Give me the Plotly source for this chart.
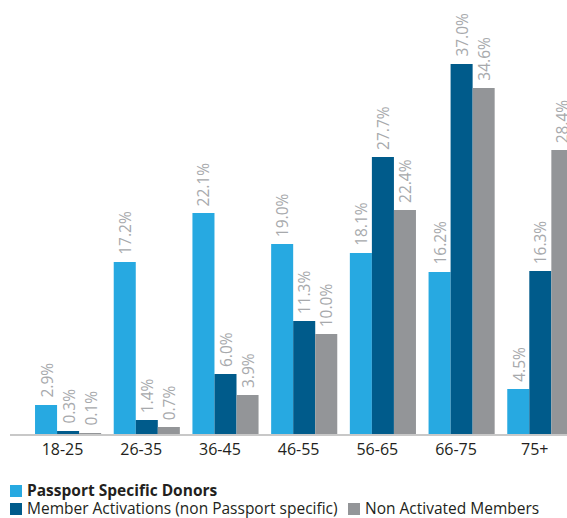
import plotly.graph_objects as go

categories = ["18-25", "26-35", "36-45", "46-55", "56-65", "66-75", "75+"]
passport = [2.9, 17.2, 22.1, 19.0, 18.1, 16.2, 4.5]
member = [0.3, 1.4, 6.0, 11.3, 27.7, 37.0, 16.3]
nonact = [0.1, 0.7, 3.9, 10.0, 22.4, 34.6, 28.4]
series_names = ["Passport Specific Donors",
                "Member Activations (non Passport specific)",
                "Non Activated Members"]
colors = ["#27a9e1", "#005b8b", "#939598"]

W, H = 567, 518
ML, MR, MT, MB = 10, 0, 10, 84
PW, PH = W - ML - MR, H - MT - MB
BAR_W = 0.28


def px_x(px):
    return (px - ML) / PW


def px_y(py):
    return (H - MB - py) / PH


fig = go.Figure()
offsets = [-0.349, -0.069, 0.211]
for vals, name, col, off in zip([passport, member, nonact], series_names, colors, offsets):
    fig.add_trace(go.Bar(
        x=categories, y=vals, name=name,
        marker=dict(color=col, line=dict(width=0)),
        offset=off, width=BAR_W, showlegend=False,
    ))
    # rotated value labels above each bar, placed on the data axes
    for i, v in enumerate(vals):
        fig.add_annotation(
            x=i + off + BAR_W / 2, y=v, xref="x", yref="y",
            text=f"{v:.1f}%", textangle=-90, showarrow=False,
            xanchor="center", yanchor="bottom", yshift=5,
            font=dict(family="Open Sans", size=15.5, color="#a7a9ac"),
        )

# legend built from annotations + shapes
legend_items = [
    (series_names[0], colors[0], 10, 485, 27, True),
    (series_names[1], colors[1], 10, 503, 27, False),
    (series_names[2], colors[2], 348, 503, 365, False),
]
for name, col, sx, sy, tx, bold in legend_items:
    fig.add_shape(type="rect", xref="paper", yref="paper",
                  x0=px_x(sx), x1=px_x(sx + 12), y0=px_y(sy + 12), y1=px_y(sy),
                  fillcolor=col, line=dict(width=0))
    fig.add_annotation(xref="paper", yref="paper", x=px_x(tx - 2), y=px_y(sy + 5),
                       xanchor="left", yanchor="middle", showarrow=False,
                       text=f"<b>{name}</b>" if bold else name,
                       font=dict(family="Open Sans", size=15.5, color="#231f20"))

fig.update_layout(
    width=W, height=H,
    margin=dict(l=ML, r=MR, t=MT, b=MB),
    plot_bgcolor="white", paper_bgcolor="white",
    barmode="overlay",
    font=dict(family="Open Sans", color="#231f20"),
    xaxis=dict(range=[-0.667, 6.41], showline=True, linecolor="#c8c8c8", linewidth=2,
               showgrid=False, ticks="", tickfont=dict(size=16, color="#231f20"),
               zeroline=False, fixedrange=True),
    yaxis=dict(range=[0, 42.4], showgrid=False, showticklabels=False, zeroline=False,
               showline=False, ticks="", fixedrange=True),
    showlegend=False,
)

fig.write_html("out.html")
